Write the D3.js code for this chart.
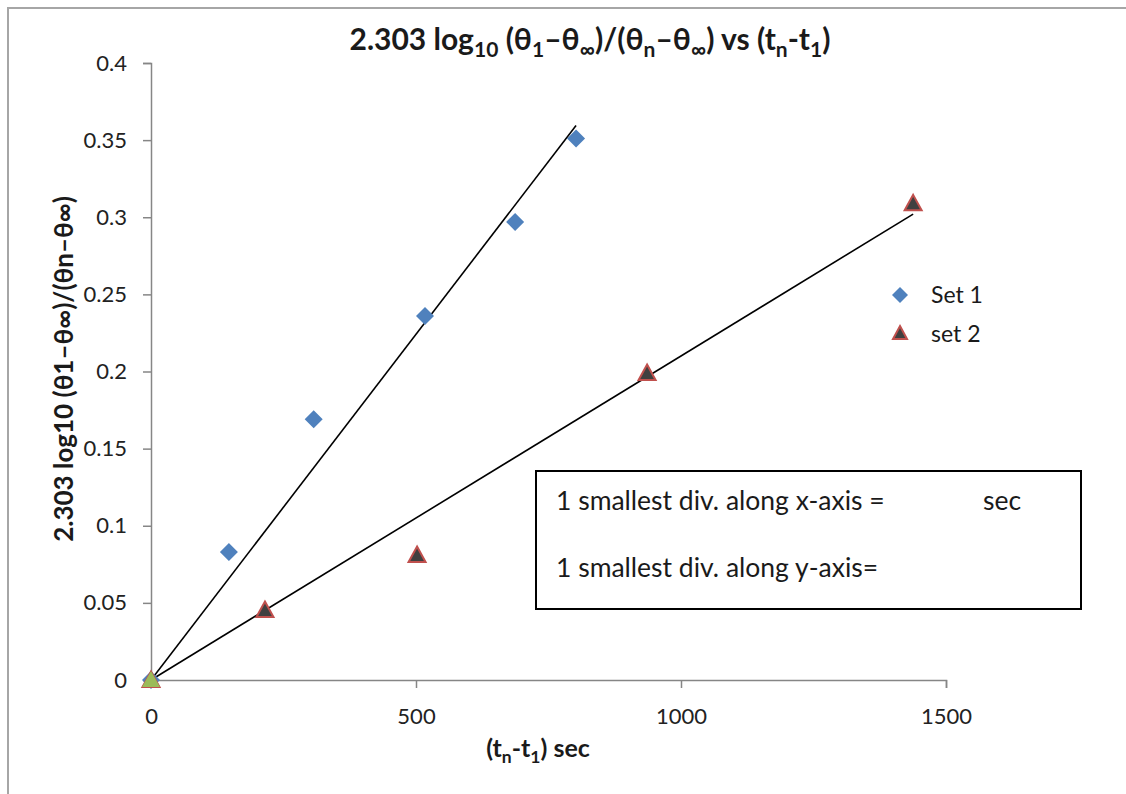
<!DOCTYPE html>
<html>
<head>
<meta charset="utf-8">
<script src="https://cdn.jsdelivr.net/npm/d3@7"></script>
<style>
  body { margin: 0; background: #fff; }
  text { font-family: Lato, "Open Sans", sans-serif; fill: #1a1a1a; }
  .axis path, .axis line { stroke: #868686; stroke-width: 1.5; }
  .axis text { font-size: 22px; fill: #222; }
</style>
</head>
<body>
<script>
// data
const set1X = [0, 147, 307, 517, 687, 802]
const set1Y = [0, 0.083, 0.169, 0.236, 0.297, 0.351]
const set2X = [0, 215, 502, 936, 1438]
const set2Y = [0, 0.0454, 0.081, 0.199, 0.309]
const set3X = [0]
const set3Y = [0]
const xTicks = [0, 500, 1000, 1500]
const yTicks = [0, 0.05, 0.1, 0.15, 0.2, 0.25, 0.3, 0.35, 0.4]
const legendNames = ['Set 1', 'set 2']

const W = 1126, H = 794
const svg = d3.select('body').append('svg').attr('width', W).attr('height', H)

// outer frame
svg.append('rect').attr('x', 8).attr('y', 8).attr('width', W + 10).attr('height', H + 10)
  .attr('fill', 'none').attr('stroke', '#a6a6a6').attr('stroke-width', 2)

const margin = {left: 151, top: 63}
const width = 946 - 151, height = 680 - 63
const g = svg.append('g').attr('transform', `translate(${margin.left},${margin.top})`)

const x = d3.scaleLinear().domain([0, 1500]).range([0, width])
const y = d3.scaleLinear().domain([0, 0.4]).range([height, 0])

g.append('g').attr('class', 'axis').attr('transform', `translate(0,${height})`)
  .call(d3.axisBottom(x).tickValues(xTicks).tickFormat(d3.format('d')).tickSizeOuter(0).tickSize(8))
  .call(a => a.selectAll('.tick text').attr('y', 44).attr('dy', 0))
g.append('g').attr('class', 'axis')
  .call(d3.axisLeft(y).tickValues(yTicks).tickFormat(d => String(+d.toFixed(2))).tickSizeOuter(0).tickSize(8).tickPadding(16))

// regression through origin
function fit(xs, ys) {
  const sxy = d3.sum(xs, (v, i) => v * ys[i])
  const sxx = d3.sum(xs, v => v * v)
  const k = sxy / sxx
  const xm = d3.max(xs)
  return [[0, 0], [xm, k * xm]]
}
const line = d3.line().x(d => x(d[0])).y(d => y(d[1]))
;[fit(set1X, set1Y), fit(set2X, set2Y)].forEach(l => {
  g.append('path').attr('d', line(l)).attr('fill', 'none')
    .attr('stroke', '#000').attr('stroke-width', 1.6)
})

const diamond = 'M0,-9L9,0L0,9L-9,0Z'
const tri = 'M0,-8.5L8.5,7L-8.5,7Z'

g.append('g').selectAll('path').data(set1X).enter().append('path')
  .attr('d', diamond)
  .attr('transform', (d, i) => `translate(${x(d)},${y(set1Y[i])})`)
  .attr('fill', '#4f81bd')
g.append('g').selectAll('path').data(set2X).enter().append('path')
  .attr('d', tri)
  .attr('transform', (d, i) => `translate(${x(d)},${y(set2Y[i])})`)
  .attr('fill', '#404040').attr('stroke', '#c0504d').attr('stroke-width', 2)
g.append('g').selectAll('path').data(set3X).enter().append('path')
  .attr('d', 'M0,-9L9,7L-9,7Z')
  .attr('transform', (d, i) => `translate(${x(d)},${y(set3Y[i])})`)
  .attr('fill', '#9bbb59')

// legend
const leg = svg.append('g').attr('transform', 'translate(900,295)')
leg.append('path').attr('d', 'M0,-8L8,0L0,8L-8,0Z').attr('fill', '#4f81bd')
leg.append('path').attr('d', 'M0,-7L7,6L-7,6Z').attr('transform', 'translate(0,38)')
  .attr('fill', '#404040').attr('stroke', '#c0504d').attr('stroke-width', 2)
leg.selectAll('text.lg').data(legendNames).enter().append('text')
  .attr('x', 31).attr('y', (d, i) => i * 39 + 8)
  .attr('font-size', 23).text(d => d)

// subscript helper
function rich(sel, parts, sub) {
  let down = false
  parts.forEach(p => {
    const isSub = Array.isArray(p)
    const t = sel.append('tspan').text(isSub ? p[0] : p)
    if (isSub && !down) { t.attr('dy', sub).attr('font-size', '0.7em'); down = true }
    else if (isSub) t.attr('font-size', '0.7em')
    else if (down) { t.attr('dy', -sub); down = false }
  })
}

// title
const title = svg.append('text').attr('x', 590).attr('y', 50).attr('text-anchor', 'middle')
  .attr('font-size', 30).attr('font-weight', 'bold')
rich(title, ['2.303 log', ['10'], ' (θ', ['1'], '–θ', ['∞'], ')/(θ', ['n'], '–θ', ['∞'], ') vs (t', ['n'], '-t', ['1'], ')'], 7)

// y label
svg.append('text').attr('transform', 'translate(73,369) rotate(-90)')
  .attr('text-anchor', 'middle').attr('font-size', 26).attr('font-weight', 'bold')
  .text('2.303 log10 (θ1–θ∞)/(θn–θ∞)')

// x label
const xl = svg.append('text').attr('x', 538).attr('y', 757).attr('text-anchor', 'middle')
  .attr('font-size', 25).attr('font-weight', 'bold')
rich(xl, ['(t', ['n'], '-t', ['1'], ') sec'], 6)

// note box
svg.append('rect').attr('x', 536).attr('y', 471).attr('width', 545).attr('height', 138)
  .attr('fill', '#fff').attr('stroke', '#000').attr('stroke-width', 2)
svg.append('text').attr('x', 556).attr('y', 510).attr('font-size', 26.5).text('1 smallest div. along x-axis =')
svg.append('text').attr('x', 983).attr('y', 510).attr('font-size', 26.5).text('sec')
svg.append('text').attr('x', 556).attr('y', 577).attr('font-size', 26.5).text('1 smallest div. along y-axis=')
</script>
</body>
</html>
